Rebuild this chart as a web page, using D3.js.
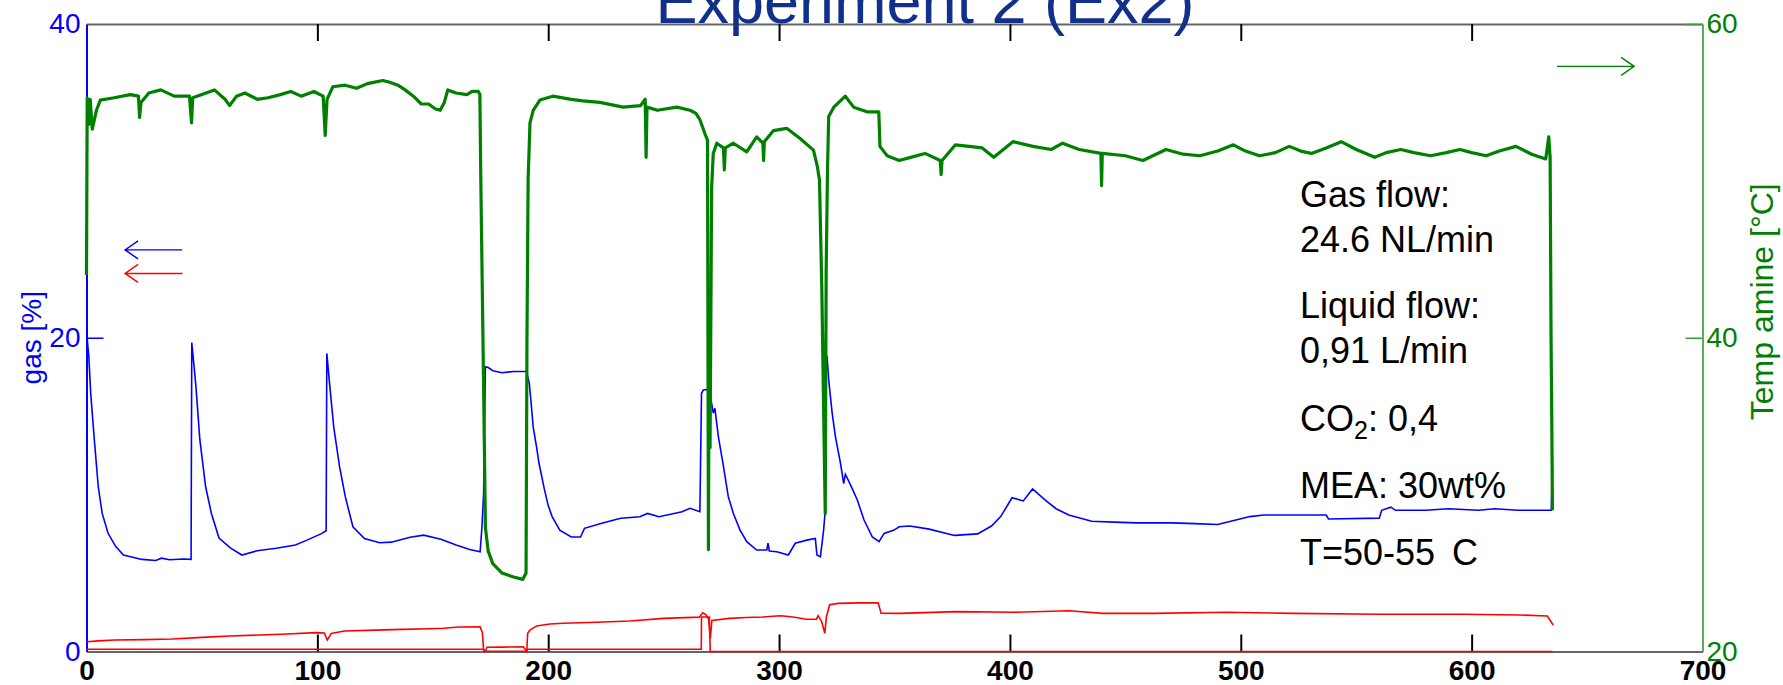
<!DOCTYPE html>
<html>
<head>
<meta charset="utf-8">
<script src="https://cdn.jsdelivr.net/npm/d3@7"></script>
<style>
  body { margin: 0; background: #fff; }
  svg { display: block; font-family: "Liberation Sans", Arial, sans-serif; }
</style>
</head>
<body>
<div id="chart"></div>
<script>
// ---- data ----
var xTicks = [0, 100, 200, 300, 400, 500, 600, 700];
var gasTicks = [0, 20, 40];
var tempTicks = [20, 40, 60];

// blue: gas [%] (left axis)
var gasBlue = [[0.2,20.1],[1.0,18.8],[1.8,16.5],[3.5,13.3],[5.1,10.5],[6.8,8.8],[9.3,7.55],[12.6,6.7],[16,6.15],[24,5.87],[30,5.8],[32.5,5.95],[36,5.85],[42,5.9],[45.3,5.87],
  [45.6,19.7],[46.6,18.15],[47.4,16.9],[49.1,13.5],[51.6,10.5],[54.1,8.8],[57.4,7.23],[62.3,6.6],[67.3,6.15],[73.9,6.42],[82.2,6.58],[90.5,6.79],[95.5,7.1],[102,7.53],[103.8,7.7],
  [104.1,19.0],[105.4,16.9],[107.1,14.3],[109.6,11.8],[112.1,9.87],[115.4,7.95],[120.4,7.2],[127,6.93],[132,6.97],[140.2,7.28],[146,7.42],[153.5,7.15],[160.1,6.79],[166,6.5],[170.5,6.36],
  [171.3,7.95],[172,10],[172.8,18.15],[174,18.1],[176,17.9],[180,17.77],[185,17.85],[190.6,17.85],
  [191.8,17.1],[192.5,16.0],[193.5,14.3],[195,13.0],[196,12.0],[198.4,10.3],[200,9.3],[201.7,8.6],[205,7.74],[210,7.3],[214,7.3],[215.7,7.85],[223.2,8.17],[231.4,8.49],[239.7,8.59],[243,8.8],[248,8.59],[258,8.91],[261.4,9.13],[265.7,8.91],
  [266.4,16.46],[267.2,16.67],[268.6,16.7],[269.8,16.6],[270.8,15.8],[271.5,15.2],[272.2,15.5],[273.7,13.7],[275.9,11.8],[278,9.87],[280.2,8.8],[283.1,7.74],[286,7.0],[290.3,6.47],[294.7,6.47],[295.2,6.9],[295.8,6.4],[299,6.36],[304,6.15],[307,6.9],[312,7.1],[315.7,7.2],[316.4,6.15],[317.9,6.04],[319.3,7.74],[320,9],
  [320.3,18.9],[320.8,18.8],[321.5,17.3],[323,15.2],[324.4,13.7],[326.6,12.0],[328,10.7],[328.7,11.3],[331,10.6],[333.9,9.66],[336.8,8.38],[340.4,7.3],[343.3,7.0],[345.5,7.53],[349.8,7.74],[352,7.95],
  [356.6,8.0],[365,7.8],[376,7.4],[386,7.5],[392,8.0],[396,8.6],[400.9,9.8],[405.8,9.6],[409.8,10.36],[415.7,9.6],[420,9.1],[425.5,8.7],[435.4,8.3],[445,8.25],[455,8.2],[470,8.2],[480,8.15],[490,8.1],[504,8.6],[510,8.7],[520,8.7],[537,8.7],[538,8.45],[560,8.5],[561,9.0],[565,9.2],[567,9.0],[580,9.0],[590,9.1],[603,9.0],[610,9.1],[620,9.0],[630,9.0],[634.5,9.0],[635,11.8]];

// red: gas [%] (left axis), upper trace and low trace
var gasRed = [[0.2,0.62],[5,0.68],[12.3,0.73],[25,0.76],[37.1,0.8],[50,0.9],[62,0.99],[75,1.05],[86.9,1.12],[99.3,1.2],[103,1.18],[104.3,0.73],[106,1.15],[111.7,1.31],[125,1.36],[136.6,1.41],[148.8,1.45],[154.6,1.48],[161.4,1.56],[170.5,1.58],[171.5,1.2],[172,0.1],[172.6,0.0],[173.5,0.27],[180,0.28],[189.2,0.3],[190.7,0.0],[191.1,1.16],[192.1,1.37],[195,1.63],[200.8,1.75],[206.6,1.8],[221,1.86],[235.5,1.94],[249.9,2.11],[265.5,2.19],[266.9,2.47],[268.3,2.35],[269.5,2.05],[270.2,0.84],[270.9,1.98],[278.5,2.11],[285.8,2.17],[293,2.2],[300.2,2.28],[303,2.25],[307.5,2.17],[311.8,2.06],[316.2,2.06],[316.9,2.28],[318.5,1.9],[319.8,1.16],[320.5,2.2],[321.9,2.98],[325.6,3.07],[335,3.1],[342.9,3.11],[344.2,2.44],[352.4,2.43],[376.8,2.54],[401.2,2.5],[425.6,2.6],[440.2,2.43],[462.1,2.43],[493.8,2.5],[523.1,2.43],[559.7,2.37],[596.2,2.37],[620.6,2.33],[632.8,2.26],[635.3,1.69]];
var gasRedLow = [[0,0.14],[172,0.14],[172.5,0.02],[190.7,0.02],[191,0.14],[266.3,0.14],[266.4,2.2],[269.8,2.2],[270.2,0],[635,0]];

// green: Temp amine [°C] (right axis)
var tempAmine = [[0,44.0],[0.3,55.3],[1,53.6],[1.6,55.2],[2.5,53.3],[4.3,54.5],[6,55.15],[12,55.3],[19,55.5],[22.5,55.4],[23,54.05],[23.6,55.0],[27,55.6],[32.2,55.8],[38,55.4],[44.6,55.4],[45.5,53.7],[46,55.3],[50,55.5],[55.4,55.8],[60,55.2],[62,54.8],[65,55.4],[68.6,55.6],[74,55.2],[78.6,55.3],[84,55.5],[88.5,55.7],[93,55.4],[98.5,55.7],[102.5,55.4],[103.4,52.9],[104.2,55.2],[106.7,56.0],[112,56.1],[117,55.9],[121.7,56.2],[128.3,56.4],[131,56.3],[134.9,56.1],[138,55.8],[141.6,55.4],[145,54.9],[148.2,54.9],[151,54.6],[153.2,54.5],[155,55.0],[156.5,55.8],[160,55.6],[164.8,55.5],[167,55.7],[169.7,55.7],[170.4,55.5],
  [170.8,50.1],[171.5,42.5],[172,37],[172.8,27.9],[174,26.4],[176,25.6],[180,25.0],[185,24.75],[189,24.6],[190.4,25.0],[190.8,40],[191.3,50.1],[192.1,53.7],[193.5,54.5],[196.4,55.15],[202,55.4],[210,55.2],[215,55.1],[222.4,55.0],[232.4,54.7],[240,54.8],[242,55.2],[242.4,51.5],[242.8,54.7],[247.3,54.5],[255.7,54.7],[261.4,54.5],[264,54.3],[265.7,53.9],[267.9,53.0],[269,52.6],[269.4,26.5],[269.7,40],[270.1,33],[270.8,49.6],[271.5,51.75],[273,52.4],[275.9,52.1],[276.3,50.7],[276.7,52.1],[280.2,52.4],[286,51.85],[290.3,52.8],[293,52.4],[293.3,51.3],[293.6,52.5],[297.5,53.2],[303.3,53.35],[309.1,52.7],[314.9,51.96],[316.6,50.9],[317.5,50.05],[318.5,43.25],[319.5,33.5],[320,28.8],[320.4,44.2],[321,50.9],[321.5,54.1],[323.7,54.7],[328.7,55.4],[332.3,54.7],[338.1,54.4],[343.2,54.4],[343.7,52.2],[346.8,51.6],[352,51.3],[357,51.5],[363.2,51.75],[369.8,51.3],[370.2,50.4],[370.6,51.3],[376.4,52.3],[388,52.1],[393,51.5],[401.3,52.5],[410,52.2],[417.9,52.0],[422.8,52.4],[430,52.0],[439.4,51.75],[439.7,49.7],[440,51.75],[450,51.6],[457.6,51.3],[467.6,52.0],[475,51.7],[482.3,51.6],[490,51.9],[496.8,52.3],[502,51.9],[508.1,51.6],[515,51.8],[521,52.2],[526,51.9],[530.6,51.75],[537,52.1],[543.5,52.5],[550,52.0],[558,51.5],[563,51.8],[569.3,52.0],[575,51.8],[582.2,51.6],[589,51.8],[595,52.0],[600,51.8],[606.3,51.6],[612,51.9],[619.2,52.2],[626,51.7],[632.1,51.4],[633.4,52.8],[634,51.5],[634.4,40],[634.7,35],[635,29.0]];

// arrows: [x from, x to, value, axis, colour]
var arrows = [[41.4, 16.7, 25.6, "left", "#0000ff"], [41.6, 16.7, 24.1, "left", "#ff0000"], [637, 670.4, 57.3, "right", "#008000"]];

var notes = ["Gas flow:", "24.6 NL/min", "Liquid flow:", "0,91 L/min", "CO2: 0,4", "MEA: 30wt%", "T=50-55 C"];

// ---- layout ----
var width = 1783, height = 685;
var margin = {top: 24, right: 80.5, bottom: 33.5, left: 86.5};
var x = d3.scaleLinear().domain([0, 700]).range([margin.left, width - margin.right]);
var yGas = d3.scaleLinear().domain([0, 40]).range([height - margin.bottom, margin.top]);
var yTemp = d3.scaleLinear().domain([20, 60]).range([height - margin.bottom, margin.top]);

var svg = d3.select("#chart").append("svg")
  .attr("width", width)
  .attr("height", height);

svg.append("rect").attr("width", width).attr("height", height).attr("fill", "#fff");

// top axis (ticks only)
var topAx = svg.append("g")
  .attr("transform", "translate(0," + margin.top + ")")
  .call(d3.axisTop(x).tickValues([100, 200, 300, 400, 500, 600]).tickSizeInner(-17).tickSizeOuter(0).tickFormat(""));
topAx.select(".domain").attr("stroke", "#666").attr("stroke-width", 2);
topAx.selectAll(".tick line").attr("stroke", "#000").attr("stroke-width", 2);

// bottom axis
var botAx = svg.append("g")
  .attr("transform", "translate(0," + (height - margin.bottom) + ")")
  .call(d3.axisBottom(x).tickValues(xTicks).tickSizeInner(-17).tickSizeOuter(0).tickPadding(9));
botAx.select(".domain").attr("stroke", "#666").attr("stroke-width", 2);
botAx.selectAll(".tick line").attr("stroke", "#000").attr("stroke-width", 2)
  .filter(function(d) { return d == 700; }).remove();
botAx.selectAll(".tick text").attr("fill", "#000").attr("font-size", 28)
  .attr("font-weight", "bold").attr("font-family", null);

// left axis
var leftAx = svg.append("g")
  .attr("transform", "translate(" + margin.left + ",0)")
  .call(d3.axisLeft(yGas).tickValues(gasTicks).tickSizeInner(-17).tickSizeOuter(0).tickPadding(6));
leftAx.select(".domain").attr("stroke", "#0000ff").attr("stroke-width", 2);
leftAx.selectAll(".tick line").attr("stroke", "#0000ff").attr("stroke-width", 1.5)
  .filter(function(d) { return d != 20; }).remove();
leftAx.selectAll(".tick text").attr("fill", "#0000ff").attr("font-size", 28).attr("font-family", null);

// right axis
var rightAx = svg.append("g")
  .attr("transform", "translate(" + (width - margin.right) + ",0)")
  .call(d3.axisRight(yTemp).tickValues(tempTicks).tickSizeInner(-17).tickSizeOuter(0).tickPadding(4));
rightAx.select(".domain").attr("stroke", "#5aae5a").attr("stroke-width", 2);
rightAx.selectAll(".tick line").attr("stroke", "#3c9c3c").attr("stroke-width", 1.5)
  .filter(function(d) { return d == 20; }).remove();
rightAx.selectAll(".tick text").attr("fill", "#008000").attr("font-size", 28).attr("font-family", null);

// axis titles
svg.append("text")
  .attr("transform", "translate(31," + yGas(20) + ") rotate(-90)")
  .attr("text-anchor", "middle")
  .attr("dominant-baseline", "central")
  .attr("fill", "#0000ff")
  .attr("font-size", 28)
  .text("gas [%]");

svg.append("text")
  .attr("transform", "translate(1762," + (yTemp(40) - 36) + ") rotate(-90)")
  .attr("text-anchor", "middle")
  .attr("dominant-baseline", "central")
  .attr("fill", "#008000")
  .attr("font-size", 32)
  .text("Temp amine [°C]");

// title
svg.append("text")
  .attr("x", 925).attr("y", 23)
  .attr("text-anchor", "middle")
  .attr("fill", "#10308c")
  .attr("font-size", 63)
  .text("Experiment 2 (Ex2)");

// lines
var lineGas = d3.line().x(function(d) { return x(d[0]); }).y(function(d) { return yGas(d[1]); });
var lineTemp = d3.line().x(function(d) { return x(d[0]); }).y(function(d) { return yTemp(d[1]); });

svg.append("path").datum(gasBlue)
  .attr("d", lineGas).attr("fill", "none").attr("stroke", "#0000ff").attr("stroke-width", 1.6);
svg.append("path").datum(gasRedLow)
  .attr("d", lineGas).attr("fill", "none").attr("stroke", "#ff0000").attr("stroke-width", 1.6);
svg.append("path").datum(gasRed)
  .attr("d", lineGas).attr("fill", "none").attr("stroke", "#ff0000").attr("stroke-width", 1.6);
svg.append("path").datum(tempAmine)
  .attr("d", lineTemp).attr("fill", "none").attr("stroke", "#008000").attr("stroke-width", 3.2)
  .attr("stroke-linejoin", "round");

// arrows
arrows.forEach(function(a) {
  var yy = a[3] == "left" ? yGas(a[2]) : yTemp(a[2]);
  var x1 = x(a[0]), x2 = x(a[1]);
  var dir = x2 > x1 ? -1 : 1;
  svg.append("path")
    .attr("d", "M" + x1 + "," + yy + "H" + x2 +
      "M" + (x2 + dir * 13) + "," + (yy - 9) + "L" + x2 + "," + yy + "L" + (x2 + dir * 13) + "," + (yy + 9))
    .attr("fill", "none").attr("stroke", a[4]).attr("stroke-width", 1.4);
});

// notes
var noteY = [206.7, 251.7, 318.3, 363.3, 430.7, 498.3, 565];
var noteG = svg.append("g").attr("font-size", 36).attr("fill", "#000");
notes.forEach(function(t, i) {
  var tx = noteG.append("text").attr("x", 1300).attr("y", noteY[i]);
  if (t.indexOf("CO2") == 0) {
    tx.append("tspan").text("CO");
    tx.append("tspan").attr("font-size", 25).attr("dy", 8).text("2");
    tx.append("tspan").attr("dy", -8).text(t.slice(3));
  } else if (t.indexOf("T=") == 0) {
    var parts = t.split(" ");
    tx.append("tspan").text(parts[0]);
    tx.append("tspan").attr("dx", 17).text(parts[1]);
  } else {
    tx.text(t);
  }
});
</script>
</body>
</html>
